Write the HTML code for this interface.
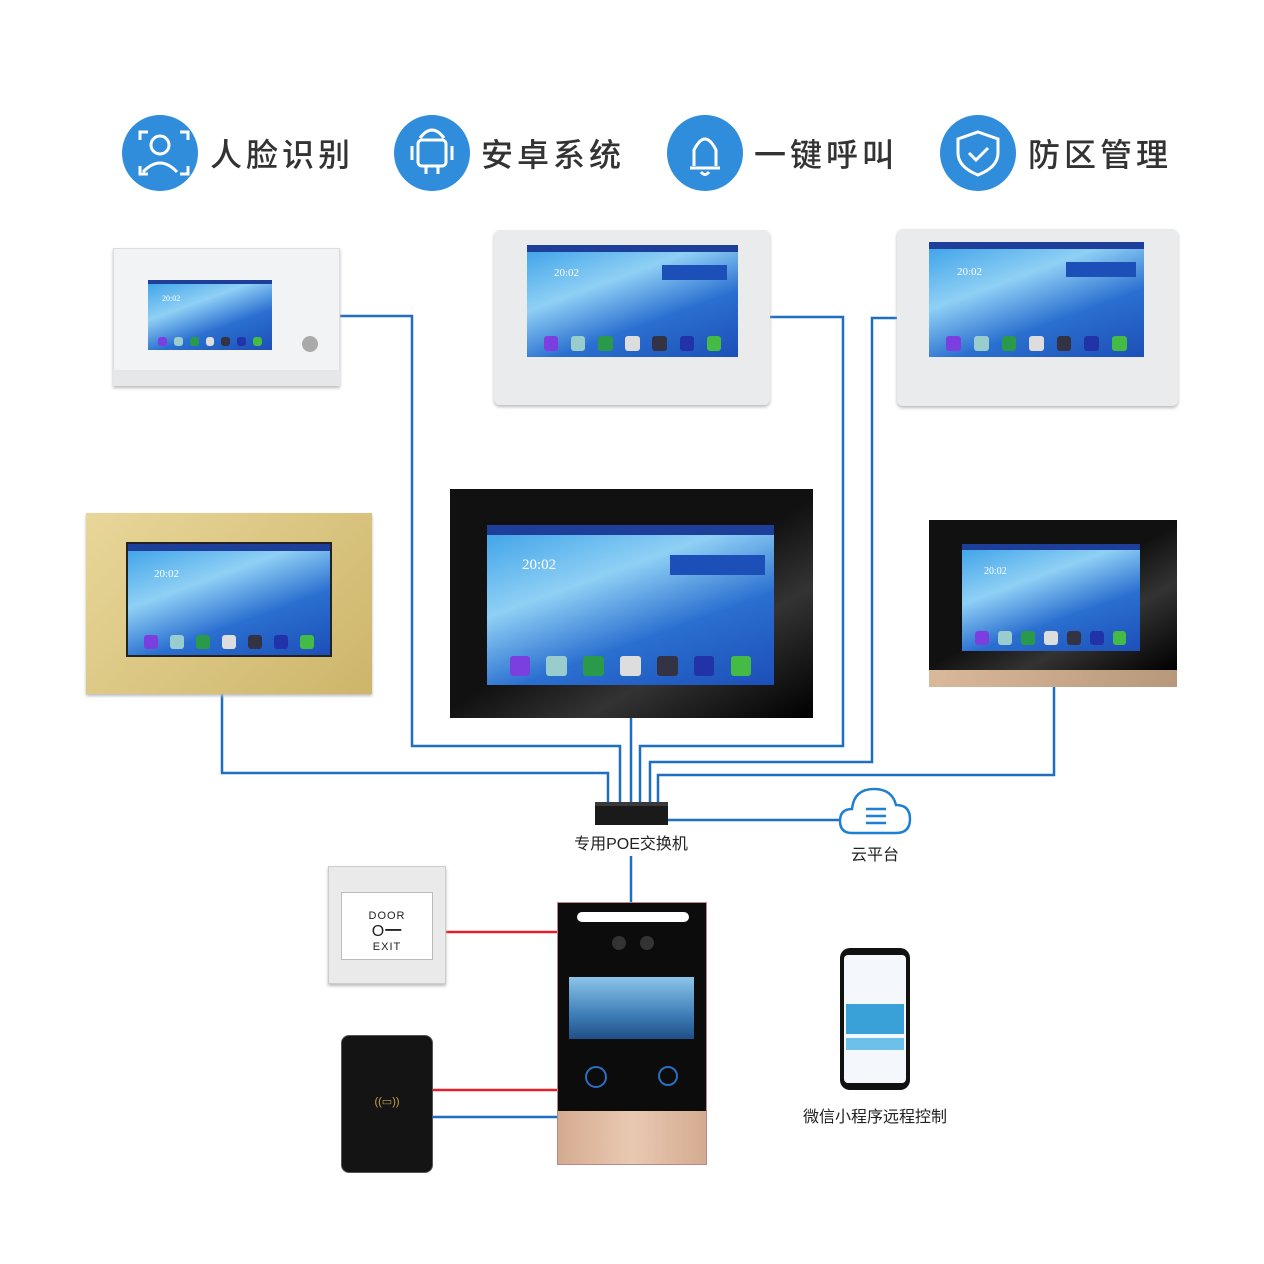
<!DOCTYPE html>
<html><head><meta charset="utf-8"><style>
*{margin:0;padding:0;box-sizing:border-box}
body{width:1264px;height:1264px;background:#fff;position:relative;overflow:hidden;font-family:"Liberation Sans","Noto Sans CJK SC",sans-serif}
.a{position:absolute}
.ic{position:absolute;width:76px;height:76px;border-radius:50%;background:#2f8ddb;top:115px}
.tt{position:absolute;top:130px;font-size:32px;color:#333;letter-spacing:4px;font-weight:500}
.scr{position:absolute;background:linear-gradient(160deg,#3aa0e8 0%,#8fd0f5 35%,#2a6fd0 65%,#1d4fb8 100%);overflow:hidden}
.scr .bar{position:absolute;left:0;right:0;top:0;height:6%;background:#1d3f9a}
.scr .t{position:absolute;color:#fff;font-family:"Liberation Serif",serif}
.scr .dock{position:absolute;left:0;right:0;bottom:4%;height:16%;display:flex;justify-content:space-around;align-items:center;padding:0 5%}
.scr .dock i{display:block;height:80%;aspect-ratio:1;border-radius:3px}
.lbl{position:absolute;font-size:16px;color:#222;text-align:center}
</style></head><body>
<div class="ic" style="left:122px"></div><div class="tt" style="left:210px">人脸识别</div>
<div class="ic" style="left:394px"></div><div class="tt" style="left:481px">安卓系统</div>
<div class="ic" style="left:667px"></div><div class="tt" style="left:754px">一键呼叫</div>
<div class="ic" style="left:940px"></div><div class="tt" style="left:1028px">防区管理</div>
<svg class="a" style="left:0;top:0" width="1264" height="1264" fill="none" stroke="#fff" stroke-width="3">
<circle cx="160" cy="145" r="9"/><path d="M143 172q17-18 34 0M140 140v-8h8M180 132h8v8M140 166v8h8M188 166v8h-8"/>
<rect x="418" y="140" width="28" height="26" rx="4"/><path d="M420 138q12-16 24 0M412 146v14M452 146v14M426 166v8M438 166v8"/>
<path d="M690 168h30M694 166v-16q11-22 22 0v16M701 172q4 5 8 0"/>
<path d="M978 132l20 7v14q0 14-20 22q-20-8-20-22v-14z"/><path d="M969 153l7 7l12-12"/>
</svg>
<svg class="a" style="left:0;top:0" width="1264" height="1264" fill="none" stroke="#1f6fc0" stroke-width="2.5">
<path d="M340 316H412V746H620V802"/>
<path d="M770 317H843V746H640V802"/>
<path d="M897 318H872V762H650V802"/>
<path d="M222 694V773H608V802"/>
<path d="M631 718V802"/>
<path d="M1054 687V775H658V802"/>
<path d="M668 820H840"/>
<path d="M631 856V902"/>
<path d="M433 1117H557"/>
<path d="M446 932H557M433 1090H557" stroke="#e0202a"/>
</svg>
<!-- device 1 -->
<div class="a" style="left:113px;top:248px;width:227px;height:138px;background:#f2f3f4;border:1px solid #ddd;box-shadow:0 2px 3px #bbb"></div>
<div class="a" style="left:113px;top:370px;width:227px;height:16px;background:#e6e7e8"></div>
<div class="scr" style="left:148px;top:280px;width:124px;height:70px"><div class="bar"></div><div class="t" style="left:14px;top:14px;font-size:8px">20:02</div><div class="dock"><i style="background:#7b3fe0"></i><i style="background:#9cc"></i><i style="background:#2a9a4a"></i><i style="background:#ddd"></i><i style="background:#334"></i><i style="background:#23a"></i><i style="background:#4b4"></i></div></div>
<div class="a" style="left:302px;top:336px;width:16px;height:16px;border-radius:50%;background:#aaa"></div>
<!-- device 2 -->
<div class="a" style="left:494px;top:230px;width:276px;height:175px;background:#e9ebec;border-radius:6px;box-shadow:0 2px 3px #bbb"></div>
<div class="scr" style="left:527px;top:245px;width:211px;height:112px"><div class="bar"></div><div class="t" style="left:27px;top:22px;font-size:11px">20:02</div><div class="a" style="left:135px;top:20px;width:65px;height:15px;background:#1d4fb8"></div><div class="dock"><i style="background:#7b3fe0"></i><i style="background:#9cc"></i><i style="background:#2a9a4a"></i><i style="background:#ddd"></i><i style="background:#334"></i><i style="background:#23a"></i><i style="background:#4b4"></i></div></div>
<!-- device 3 -->
<div class="a" style="left:897px;top:229px;width:281px;height:177px;background:#e9ebec;border-radius:6px;box-shadow:0 2px 3px #bbb"></div>
<div class="scr" style="left:929px;top:242px;width:215px;height:115px"><div class="bar"></div><div class="t" style="left:28px;top:24px;font-size:11px">20:02</div><div class="a" style="left:137px;top:20px;width:70px;height:15px;background:#1d4fb8"></div><div class="dock"><i style="background:#7b3fe0"></i><i style="background:#9cc"></i><i style="background:#2a9a4a"></i><i style="background:#ddd"></i><i style="background:#334"></i><i style="background:#23a"></i><i style="background:#4b4"></i></div></div>
<!-- device 4 gold -->
<div class="a" style="left:86px;top:513px;width:286px;height:181px;background:linear-gradient(135deg,#e8d79a,#cdb56a);box-shadow:0 2px 3px #bbb"></div>
<div class="scr" style="left:126px;top:542px;width:206px;height:115px;border:2px solid #222"><div class="bar"></div><div class="t" style="left:26px;top:24px;font-size:11px">20:02</div><div class="dock"><i style="background:#7b3fe0"></i><i style="background:#9cc"></i><i style="background:#2a9a4a"></i><i style="background:#ddd"></i><i style="background:#334"></i><i style="background:#23a"></i><i style="background:#4b4"></i></div></div>
<!-- center black -->
<div class="a" style="left:450px;top:489px;width:363px;height:229px;background:linear-gradient(150deg,#111 50%,#333 70%,#000)"></div>
<div class="scr" style="left:487px;top:525px;width:287px;height:160px"><div class="bar"></div><div class="t" style="left:35px;top:32px;font-size:15px">20:02</div><div class="a" style="left:183px;top:30px;width:95px;height:20px;background:#1d4fb8"></div><div class="dock"><i style="background:#7b3fe0"></i><i style="background:#9cc"></i><i style="background:#2a9a4a"></i><i style="background:#ddd"></i><i style="background:#334"></i><i style="background:#23a"></i><i style="background:#4b4"></i></div></div>
<!-- right black -->
<div class="a" style="left:929px;top:520px;width:248px;height:150px;background:linear-gradient(150deg,#111 50%,#333 70%,#000)"></div>
<div class="a" style="left:929px;top:670px;width:248px;height:17px;background:linear-gradient(90deg,#d9b99a,#b8987a)"></div>
<div class="scr" style="left:962px;top:544px;width:178px;height:107px"><div class="bar"></div><div class="t" style="left:22px;top:22px;font-size:10px">20:02</div><div class="dock"><i style="background:#7b3fe0"></i><i style="background:#9cc"></i><i style="background:#2a9a4a"></i><i style="background:#ddd"></i><i style="background:#334"></i><i style="background:#23a"></i><i style="background:#4b4"></i></div></div>
<!-- switch -->
<div class="a" style="left:595px;top:802px;width:73px;height:23px;background:#1a1a1a;border-top:4px solid #3a3a3a"></div>
<div class="lbl" style="left:560px;top:830px;width:142px">专用POE交换机</div>
<svg class="a" style="left:838px;top:785px" width="74" height="52" fill="#fff" stroke="#1f7fd0" stroke-width="2.5"><path d="M14 48q-12 0-12-12q0-12 12-12q2-20 22-20q18 0 22 16q14 0 14 14q0 14-14 14z"/><path d="M28 24h20M28 31h20M28 38h20"/></svg>
<div class="lbl" style="left:835px;top:841px;width:80px">云平台</div>
<!-- door exit -->
<div class="a" style="left:328px;top:866px;width:118px;height:118px;background:#eaeaea;border:1px solid #ccc;box-shadow:0 2px 3px #bbb"></div>
<div class="a" style="left:341px;top:892px;width:92px;height:68px;background:#fff;border:1px solid #bbb;text-align:center;font-size:11px;letter-spacing:1px;color:#222;line-height:1;padding-top:18px">DOOR<br><span style="font-size:16px;line-height:20px">O━</span><br>EXIT</div>
<!-- card reader -->
<div class="a" style="left:341px;top:1035px;width:92px;height:138px;background:#141414;border-radius:8px;border:1px solid #555"></div>
<div class="a" style="left:362px;top:1095px;width:50px;font-size:11px;color:#c9a14a;text-align:center">((▭))</div>
<!-- outdoor panel -->
<div class="a" style="left:557px;top:902px;width:150px;height:263px;background:linear-gradient(90deg,#d4ab90,#e9c9b2,#d4ab90);border:1px solid #b88"></div>
<div class="a" style="left:558px;top:903px;width:148px;height:208px;background:#0c0c0c"></div>
<div class="a" style="left:577px;top:912px;width:112px;height:10px;background:#fff;border-radius:5px"></div>
<div class="a" style="left:612px;top:936px;width:14px;height:14px;border-radius:50%;background:#333"></div>
<div class="a" style="left:640px;top:936px;width:14px;height:14px;border-radius:50%;background:#333"></div>
<div class="a" style="left:569px;top:977px;width:125px;height:62px;background:linear-gradient(180deg,#8cc4ea,#3f7fb8 60%,#1f4f88)"></div>
<div class="a" style="left:585px;top:1066px;width:22px;height:22px;border-radius:50%;border:2px solid #2a6fc0"></div>
<div class="a" style="left:658px;top:1066px;width:20px;height:20px;border-radius:50%;border:2px solid #2a6fc0"></div>
<!-- phone -->
<div class="a" style="left:840px;top:948px;width:70px;height:142px;background:#111;border-radius:10px"></div>
<div class="a" style="left:844px;top:955px;width:62px;height:128px;background:#f4f8fc;border-radius:4px"></div>
<div class="a" style="left:846px;top:1004px;width:58px;height:30px;background:#3aa0d8"></div>
<div class="a" style="left:846px;top:1038px;width:58px;height:12px;background:#6cc0ea"></div>
<div class="lbl" style="left:790px;top:1103px;width:170px">微信小程序远程控制</div>
</body></html>
